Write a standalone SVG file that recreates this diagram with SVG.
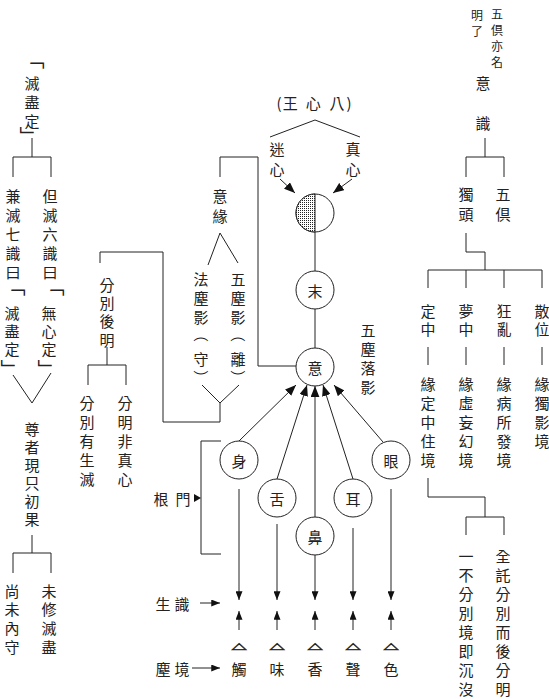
<svg xmlns="http://www.w3.org/2000/svg" width="549" height="699" viewBox="0 0 549 699">
<style>
text, tspan { font-family: "Noto Sans CJK TC", "Noto Sans CJK SC", sans-serif; font-size: 15px; fill: #222; text-anchor: middle; dominant-baseline: central; }
.s, .s tspan { font-size: 12px; }
.b { font-size: 20px; }
.tri { font-family: "DejaVu Sans", sans-serif; font-size: 18px; fill: #222; stroke: #222; stroke-width: 0.7; }
.ln { fill: none; stroke: #222; stroke-width: 1; }
.c { fill: #fff; stroke: #222; stroke-width: 1; }
.ar { marker-end: url(#ah); }
.ar2 { marker-end: url(#ah2); }
</style>
<defs>
<marker id="ah" viewBox="0 0 10 8" refX="10" refY="4" markerWidth="11" markerHeight="9" markerUnits="userSpaceOnUse" orient="auto"><path d="M0,0 L10,4 L0,8 z" fill="#111"/></marker>
<marker id="ah2" viewBox="0 0 10 8" refX="10" refY="4" markerWidth="9" markerHeight="7" markerUnits="userSpaceOnUse" orient="auto"><path d="M0,0 L10,4 L0,8 z" fill="#111"/></marker>
<pattern id="dots" width="2" height="2" patternUnits="userSpaceOnUse"><rect width="2" height="2" fill="#fff"/><rect width="1" height="1" fill="#222"/></pattern>
</defs>

<g id="connectors">
<path class="ln" d="M32,138 V157 M13,177 V157 H51 V177"/>
<path class="ln" d="M13,375 L32,403 L51,373"/>
<path class="ln" d="M32,535 V553 M13,573 V553 H51 V573"/>
<path class="ln" d="M100,263 V252 H163 V422 H220 V403"/>
<path class="ln" d="M107,347 V365 M88,385 V365 H126 V385"/>
<path class="ln" d="M220,177 V157 H258 V366 H296"/>
<path class="ln" d="M208,265 L220,233 L238,263"/>
<path class="ln" d="M202,385 L220,403 L239,385"/>
<path class="ln" d="M270,137 L315,120 L360,137"/>
<path class="ln ar" d="M280,179 L295,193"/>
<path class="ln ar" d="M352,179 L333,193"/>
<path class="ln" d="M315,232 V271 M315,309 V348"/>
<path class="ln ar" d="M239,441 L296,385"/>
<path class="ln ar" d="M277,479 L307,385"/>
<path class="ln ar" d="M315,517 L315,386"/>
<path class="ln ar" d="M353,479 L323,385"/>
<path class="ln ar" d="M383,442 L334,385"/>
<path class="ln" d="M221,441 H201 V554 H221"/>
<polygon points="194,494 201,498 194,502" fill="#111"/>
<path class="ln ar2" d="M239,489 V600"/>
<path class="ln ar2" d="M277,524 V600"/>
<path class="ln ar2" d="M315,555 V600"/>
<path class="ln ar2" d="M353,528 V600"/>
<path class="ln ar2" d="M391,489 V600"/>
<path class="ln ar2" d="M239,630 V611"/>
<path class="ln ar2" d="M277,630 V611"/>
<path class="ln ar2" d="M315,630 V611"/>
<path class="ln ar2" d="M353,630 V611"/>
<path class="ln ar2" d="M391,630 V611"/>
<path class="ln ar2" d="M200,603 H220"/>
<path class="ln ar2" d="M192,668 H220"/>
<path class="ln" d="M485,138 V157 M466,177 V157 H504 V177"/>
<path class="ln" d="M466,233 V252 H485 V270 M428,288 V270 H542 V288 M466,270 V288 M504,270 V288"/>
<path class="ln" d="M428,347 V365 M466,347 V365 M504,347 V365 M542,347 V365"/>
<path class="ln" d="M428,478 V497 H485 V517 M466,535 V517 H504 V535"/>
</g>

<g id="n-miejin1">
<text class="b" transform="translate(34.8,59.6) rotate(90)">「</text>
<text><tspan x="32" y="82">滅</tspan><tspan x="32" y="101">盡</tspan><tspan x="32" y="120">定</tspan></text>
<text class="b" transform="translate(30.4,136.2) rotate(90)">」</text>
</g>
<g id="n-jian"><text><tspan x="13" y="195">兼</tspan><tspan x="13" y="214">滅</tspan><tspan x="13" y="233">七</tspan><tspan x="13" y="252">識</tspan><tspan x="13" y="271">曰</tspan></text></g>
<g id="n-dan"><text><tspan x="50" y="195">但</tspan><tspan x="50" y="214">滅</tspan><tspan x="50" y="233">六</tspan><tspan x="50" y="252">識</tspan><tspan x="50" y="271">曰</tspan></text></g>
<g id="n-miejin2">
<text class="b" transform="translate(15.8,286.6) rotate(90)">「</text>
<text><tspan x="12" y="312">滅</tspan><tspan x="12" y="330">盡</tspan><tspan x="12" y="348">定</tspan></text>
<text class="b" transform="translate(11.4,369.2) rotate(90)">」</text>
</g>
<g id="n-wuxin">
<text class="b" transform="translate(54.8,286.6) rotate(90)">「</text>
<text><tspan x="49" y="312">無</tspan><tspan x="49" y="330">心</tspan><tspan x="49" y="348">定</tspan></text>
<text class="b" transform="translate(48.4,369.2) rotate(90)">」</text>
</g>
<g id="n-zunzhe"><text><tspan x="32" y="428">尊</tspan><tspan x="32" y="446">者</tspan><tspan x="32" y="464">現</tspan><tspan x="32" y="482">只</tspan><tspan x="32" y="500">初</tspan><tspan x="32" y="518">果</tspan></text></g>
<g id="n-shangwei"><text><tspan x="12" y="590">尚</tspan><tspan x="12" y="608">未</tspan><tspan x="12" y="627">內</tspan><tspan x="12" y="646">守</tspan></text></g>
<g id="n-weixiu"><text><tspan x="49" y="590">未</tspan><tspan x="49" y="608">修</tspan><tspan x="49" y="627">滅</tspan><tspan x="49" y="646">盡</tspan></text></g>

<g id="n-fenbiehouming"><text><tspan x="107" y="284">分</tspan><tspan x="107" y="302">別</tspan><tspan x="107" y="320">後</tspan><tspan x="107" y="339">明</tspan></text></g>
<g id="n-fenbieyou"><text><tspan x="87" y="402">分</tspan><tspan x="87" y="421">別</tspan><tspan x="87" y="440">有</tspan><tspan x="87" y="459">生</tspan><tspan x="87" y="478">滅</tspan></text></g>
<g id="n-fenmingfei"><text><tspan x="125" y="402">分</tspan><tspan x="125" y="421">明</tspan><tspan x="125" y="440">非</tspan><tspan x="125" y="459">真</tspan><tspan x="125" y="478">心</tspan></text></g>

<g id="n-yiyuan"><text><tspan x="220" y="195">意</tspan><tspan x="220" y="215">緣</tspan></text></g>
<g id="n-fachen">
<text><tspan x="201" y="278">法</tspan><tspan x="201" y="297">塵</tspan><tspan x="201" y="316">影</tspan></text>
<text transform="translate(201.5,334.6) rotate(90)">（</text>
<text x="201" y="358">守</text>
<text transform="translate(201.5,377.4) rotate(90)">）</text>
</g>
<g id="n-wuchen">
<text><tspan x="238" y="278">五</tspan><tspan x="238" y="297">塵</tspan><tspan x="238" y="316">影</tspan></text>
<text transform="translate(238.5,334.6) rotate(90)">（</text>
<text x="238" y="358">離</text>
<text transform="translate(238.5,377.4) rotate(90)">）</text>
</g>

<g id="n-baxinwang"><text y="102" xml:space="preserve"><tspan x="279">(</tspan><tspan x="292">王</tspan> <tspan x="315">心</tspan> <tspan x="337">八</tspan><tspan x="349">)</tspan></text></g>
<g id="n-mixin"><text><tspan x="277" y="148">迷</tspan><tspan x="277" y="168">心</tspan></text></g>
<g id="n-zhenxin"><text><tspan x="353" y="148">真</tspan><tspan x="353" y="168">心</tspan></text></g>
<g id="n-heart">
<circle class="c" cx="315" cy="213" r="19"/>
<path d="M315,194 A19,19 0 0 0 315,232 Z" fill="url(#dots)" stroke="#222"/>
</g>
<g id="n-mo"><circle class="c" cx="315" cy="290" r="19"/><text x="315" y="290">末</text></g>
<g id="n-yi"><circle class="c" cx="315" cy="367" r="19"/><text x="315" y="367">意</text></g>
<g id="n-luoying"><text><tspan x="368" y="329">五</tspan><tspan x="368" y="348">塵</tspan><tspan x="368" y="367">落</tspan><tspan x="368" y="386">影</tspan></text></g>

<g id="n-shen"><circle class="c" cx="239" cy="460" r="19"/><text x="239" y="460">身</text></g>
<g id="n-she"><circle class="c" cx="277" cy="498" r="19"/><text x="277" y="498">舌</text></g>
<g id="n-bi"><circle class="c" cx="315" cy="536" r="19"/><text x="315" y="536">鼻</text></g>
<g id="n-er"><circle class="c" cx="353" cy="498" r="19"/><text x="353" y="498">耳</text></g>
<g id="n-yan"><circle class="c" cx="391" cy="460" r="19"/><text x="391" y="460">眼</text></g>

<g id="n-genmen"><text><tspan x="161" y="498">根</tspan><tspan x="183" y="498">門</tspan></text></g>
<g id="n-shengshi"><text><tspan x="163" y="603">生</tspan><tspan x="182" y="603">識</tspan></text></g>
<g id="n-chenjing"><text><tspan x="163" y="668">塵</tspan><tspan x="182" y="668">境</tspan></text></g>

<g id="n-chu"><text class="tri" transform="translate(239,646) scale(1.1,0.5)">△</text><text x="239" y="668">觸</text></g>
<g id="n-wei"><text class="tri" transform="translate(277,646) scale(1.1,0.5)">△</text><text x="277" y="668">味</text></g>
<g id="n-xiang"><text class="tri" transform="translate(315,646) scale(1.1,0.5)">△</text><text x="315" y="668">香</text></g>
<g id="n-sheng"><text class="tri" transform="translate(353,646) scale(1.1,0.5)">△</text><text x="353" y="668">聲</text></g>
<g id="n-se"><text class="tri" transform="translate(391,646) scale(1.1,0.5)">△</text><text x="391" y="668">色</text></g>

<g id="n-mingliao"><text class="s"><tspan x="477" y="14">明</tspan><tspan x="477" y="30">了</tspan></text></g>
<g id="n-wujuyiming"><text class="s"><tspan x="497" y="13">五</tspan><tspan x="497" y="29">倶</tspan><tspan x="497" y="45">亦</tspan><tspan x="497" y="61">名</tspan></text></g>
<g id="n-yishi"><text><tspan x="483" y="82">意</tspan><tspan x="483" y="122">識</tspan></text></g>
<g id="n-dutou"><text><tspan x="466" y="193">獨</tspan><tspan x="466" y="213">頭</tspan></text></g>
<g id="n-wuju"><text><tspan x="503" y="193">五</tspan><tspan x="503" y="213">倶</tspan></text></g>
<g id="n-dingzhong"><text><tspan x="428" y="310">定</tspan><tspan x="428" y="328">中</tspan></text></g>
<g id="n-mengzhong"><text><tspan x="466" y="310">夢</tspan><tspan x="466" y="328">中</tspan></text></g>
<g id="n-kuangluan"><text><tspan x="504" y="310">狂</tspan><tspan x="504" y="328">亂</tspan></text></g>
<g id="n-sanwei"><text><tspan x="542" y="310">散</tspan><tspan x="542" y="328">位</tspan></text></g>
<g id="n-yuan1"><text><tspan x="428" y="383">緣</tspan><tspan x="428" y="402">定</tspan><tspan x="428" y="421">中</tspan><tspan x="428" y="440">住</tspan><tspan x="428" y="459">境</tspan></text></g>
<g id="n-yuan2"><text><tspan x="466" y="383">緣</tspan><tspan x="466" y="402">虛</tspan><tspan x="466" y="421">妄</tspan><tspan x="466" y="440">幻</tspan><tspan x="466" y="459">境</tspan></text></g>
<g id="n-yuan3"><text><tspan x="504" y="383">緣</tspan><tspan x="504" y="402">病</tspan><tspan x="504" y="421">所</tspan><tspan x="504" y="440">發</tspan><tspan x="504" y="459">境</tspan></text></g>
<g id="n-yuan4"><text><tspan x="542" y="383">緣</tspan><tspan x="542" y="402">獨</tspan><tspan x="542" y="421">影</tspan><tspan x="542" y="440">境</tspan></text></g>
<g id="n-yibu"><text><tspan x="466" y="555">一</tspan><tspan x="466" y="574">不</tspan><tspan x="466" y="593">分</tspan><tspan x="466" y="612">別</tspan><tspan x="466" y="631">境</tspan><tspan x="466" y="650">即</tspan><tspan x="466" y="669">沉</tspan><tspan x="466" y="688">沒</tspan></text></g>
<g id="n-quantuo"><text><tspan x="503" y="555">全</tspan><tspan x="503" y="574">託</tspan><tspan x="503" y="593">分</tspan><tspan x="503" y="612">別</tspan><tspan x="503" y="631">而</tspan><tspan x="503" y="650">後</tspan><tspan x="503" y="669">分</tspan><tspan x="503" y="688">明</tspan></text></g>
</svg>
